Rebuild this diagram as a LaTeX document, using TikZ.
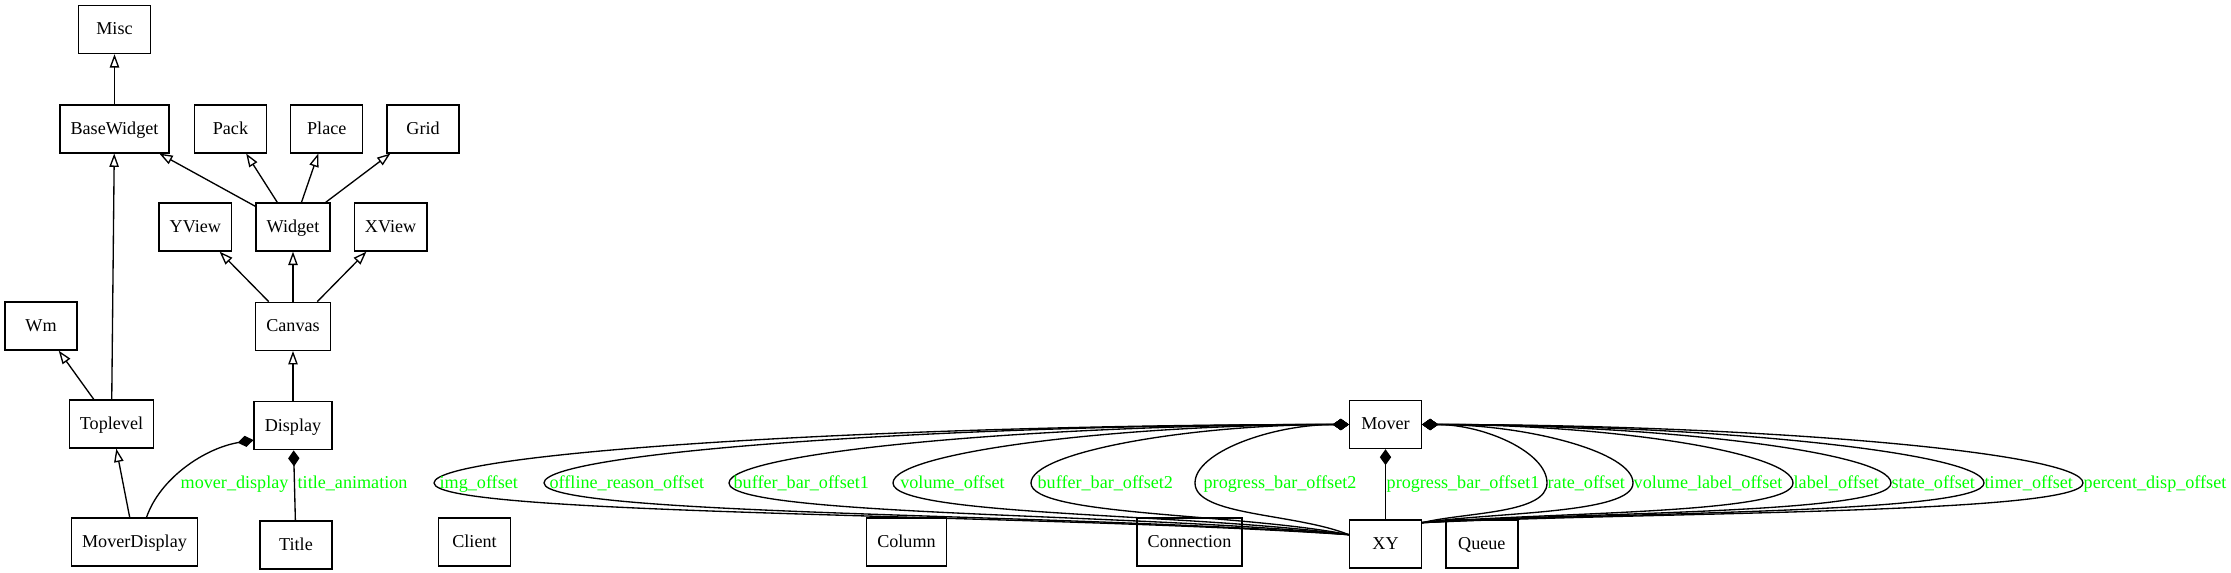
\documentclass[tikz,border=0pt]{standalone}
\usepackage{fontspec}
\setmainfont{Liberation Serif}
\usetikzlibrary{positioning, arrows.meta}

\begin{document}
\begin{tikzpicture}[x=0.75pt, y=-0.75pt, line width=1pt,
    cls/.style={draw, minimum width=54pt, minimum height=36pt, inner xsep=8pt, text height=11pt, text depth=3pt, font=\fontsize{13.6pt}{16pt}\selectfont},
    lbl/.style={anchor=west, inner sep=0pt, text=green, text height=11pt, text depth=3pt, font=\fontsize{13.6pt}{16pt}\selectfont},
    isa/.style={-{Triangle[open, length=10pt, width=7pt]}},
    has/.style={-{Diamond[length=12pt, width=8.5pt]}}]
    \useasboundingbox (0,0) rectangle (2231,572);

    % Widget classes
    \node (misc) [cls] at (114.5,29.5) {Misc};
    \node (basewidget) [cls, below=37.5pt of misc] {BaseWidget};
    \node (pack) [cls, right=18pt of basewidget] {Pack};
    \node (place) [cls, right=17.25pt of pack] {Place};
    \node (grid) [cls, right=17.25pt of place] {Grid};
    \node (widget) [cls] at (293,227) {Widget};
    \node (yview) [cls, left=17.25pt of widget] {YView};
    \node (xview) [cls, right=17.25pt of widget] {XView};
    \node (canvas) [cls, below=37.5pt of widget] {Canvas};
    \node (wm) [cls] at (41,326) {Wm};
    \node (display) [cls, below=37.5pt of canvas] {Display};
    \node (toplevel) [cls] at (111.5,424) {Toplevel};
    \node (title) [cls, below=52.5pt of display, xshift=2.25pt] {Title};
    \node (moverdisplay) [cls] at (134.5,542) {MoverDisplay};

    % Other classes
    \node (client) [cls] at (474.5,542) {Client};
    \node (column) [cls] at (906.5,542) {Column};
    \node (connection) [cls] at (1189.5,542) {Connection};
    \node (mover) [cls] at (1385.5,424.5) {Mover};
    \node (xy) [cls, below=52.5pt of mover] {XY};
    \node (queue) [cls, right=17.25pt of xy] {Queue};

    % Inheritance
    \draw[isa] (basewidget) -- (misc);
    \draw[isa] (widget) -- (basewidget);
    \draw[isa] (widget) -- (pack);
    \draw[isa] (widget) -- (place);
    \draw[isa] (widget) -- (grid);
    \draw[isa] (canvas) -- (yview);
    \draw[isa] (canvas) -- (widget);
    \draw[isa] (canvas) -- (xview);
    \draw[isa] (toplevel) -- (basewidget);
    \draw[isa] (toplevel) -- (wm);
    \draw[isa] (display) -- (canvas);
    \draw[isa] (moverdisplay) -- (toplevel);

    % Composition
    \draw[has] (moverdisplay.64) .. controls (160,478) and (205,448) .. (display.200) node[lbl] at (180,483) {mover\_display};
    \draw[has] (title) -- (display) node[lbl] at (297,483) {title\_animation};

    % XY inside Mover, left side
    \draw[has] (xy.166) .. controls (1029,513) and (434,516) .. (434,483) node[lbl, xshift=3.75pt] {img\_offset} .. controls (434,452) and (891,424.5) .. (mover.west);
    \draw[has] (xy.166) .. controls (1067,513) and (544,516) .. (544,483) node[lbl, xshift=3.75pt] {offline\_reason\_offset} .. controls (544,452) and (946,424.5) .. (mover.west);
    \draw[has] (xy.166) .. controls (1132,513) and (729,516) .. (729,483) node[lbl, xshift=3pt] {buffer\_bar\_offset1} .. controls (729,452) and (1039,424.5) .. (mover.west);
    \draw[has] (xy.166) .. controls (1189,513) and (893,516) .. (893,483) node[lbl, xshift=5pt] {volume\_offset} .. controls (893,452) and (1121,424.5) .. (mover.west);
    \draw[has] (xy.166) .. controls (1238,513) and (1031,516) .. (1031,483) node[lbl, xshift=4.5pt] {buffer\_bar\_offset2} .. controls (1031,452) and (1190,424.5) .. (mover.west);
    \draw[has] (xy.166) .. controls (1295,513) and (1195,516) .. (1195,483) node[lbl, xshift=6pt] {progress\_bar\_offset2} .. controls (1195,452) and (1272,424.5) .. (mover.west);

    % XY inside Mover, middle and right side
    \draw[has] (xy) -- (mover) node[lbl] at (1386,483) {progress\_bar\_offset1};
    \draw[has] (xy.30) .. controls (1466,512) and (1547,514) .. (1547,483) node[lbl] {rate\_offset} .. controls (1547,452) and (1484,424.5) .. (mover.east);
    \draw[has] (xy.30) .. controls (1496,512) and (1633,514) .. (1633,483) node[lbl] {volume\_label\_offset} .. controls (1633,452) and (1527,424.5) .. (mover.east);
    \draw[has] (xy.30) .. controls (1552,512) and (1793,514) .. (1793,483) node[lbl] {label\_offset} .. controls (1793,452) and (1607,424.5) .. (mover.east);
    \draw[has] (xy.30) .. controls (1586,512) and (1891,514) .. (1891,483) node[lbl] {state\_offset} .. controls (1891,452) and (1656,424.5) .. (mover.east);
    \draw[has] (xy.30) .. controls (1619,512) and (1984,514) .. (1984,483) node[lbl] {timer\_offset} .. controls (1984,452) and (1703,424.5) .. (mover.east);
    \draw[has] (xy.30) .. controls (1653,512) and (2083,514) .. (2083,483) node[lbl] {percent\_disp\_offset} .. controls (2083,452) and (1752,424.5) .. (mover.east);
\end{tikzpicture}
\end{document}
